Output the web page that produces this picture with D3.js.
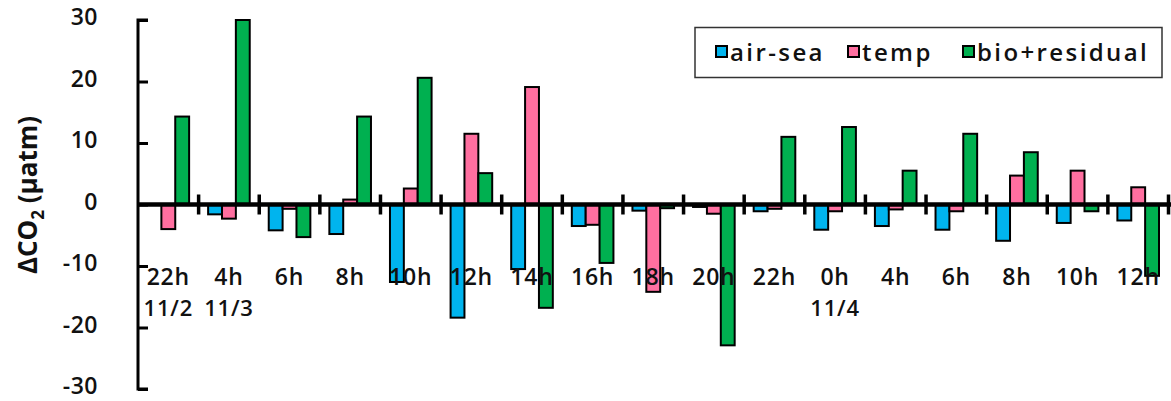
<!DOCTYPE html>
<html>
<head>
<meta charset="utf-8">
<script src="https://cdn.jsdelivr.net/npm/d3@7"></script>
<style>
  html, body { margin: 0; padding: 0; background: #fff; }
  svg text { font-family: "Open Sans", "Noto Sans", sans-serif; fill: #111; }
</style>
</head>
<body>
<svg id="chart" width="1171" height="401"></svg>
<script>
// Hourly decomposition of ΔCO2 into air-sea exchange, temperature and bio+residual terms
const hours = ["22h","4h","6h","8h","10h","12h","14h","16h","18h","20h","22h","0h","4h","6h","8h","10h","12h"];
const dates = ["11/2","11/3","","","","","","","","","","11/4","","","","",""];
const seriesNames = ["air-sea","temp","bio+residual"];
const airSea = [0, -1.6, -4.2, -4.8, -12.6, -18.4, -10.5, -3.5, -1.0, -0.4, -1.1, -4.1, -3.5, -4.1, -5.9, -3.0, -2.6];
const temp   = [-4.0, -2.3, -0.7, 0.8, 2.6, 11.5, 19.1, -3.3, -14.2, -1.5, -0.7, -1.1, -0.8, -1.1, 4.7, 5.5, 2.8];
const bio    = [14.3, 30, -5.3, 14.3, 20.6, 5.1, -16.8, -9.5, -0.6, -22.9, 11.0, 12.6, 5.5, 11.5, 8.5, -1.1, -11.6];
const yTicks = [-30, -20, -10, 0, 10, 20, 30];
const colors = ["#00B4EE", "#FF6FA0", "#00B050"];

const values = [airSea, temp, bio];
const svg = d3.select("#chart");

const x0 = d3.scaleBand().domain(d3.range(hours.length)).range([138, 1168.5]).padding(0);
const x1 = d3.scaleBand().domain(d3.range(3)).range([9.5, x0.bandwidth() - 9.5]).padding(0);
const y = d3.scaleLinear().domain([-30, 30]).range([389, 20]);

// bars
const groups = svg.append("g").selectAll("g")
  .data(hours.map((h, i) => i))
  .join("g")
  .attr("transform", i => `translate(${x0(i)},0)`);

groups.selectAll("rect")
  .data(i => values.map((arr, s) => ({ s, v: arr[i] })))
  .join("rect")
  .filter(d => d.v !== 0)
  .attr("x", d => x1(d.s))
  .attr("width", x1.bandwidth())
  .attr("y", d => y(Math.max(0, d.v)))
  .attr("height", d => Math.abs(y(d.v) - y(0)))
  .attr("fill", d => colors[d.s])
  .attr("stroke", "#000")
  .attr("stroke-width", 2);

// y axis
const yAxis = d3.axisRight(y).tickValues(yTicks).tickSize(10).tickFormat("");
const gy = svg.append("g").attr("transform", "translate(138,0)").call(yAxis);
gy.select(".domain").attr("stroke", "#000").attr("stroke-width", 3)
  .attr("d", `M10,${y(30)}H0V${y(-30)}H10`);
gy.selectAll(".tick line").attr("stroke", "#000").attr("stroke-width", 3);

svg.append("g").selectAll("text")
  .data(yTicks)
  .join("text")
  .attr("x", 98)
  .attr("y", d => y(d))
  .attr("dy", "0.22em")
  .attr("text-anchor", "end")
  .attr("font-size", 23)
  .attr("font-weight", 600)
  .attr("letter-spacing", 0.5)
  .text(d => d);

// x axis at zero with ticks crossing the line
const xEdges = d3.range(1, hours.length + 1).map(i => x0.range()[0] + i * x0.bandwidth());
svg.append("line")
  .attr("x1", 138).attr("x2", 1171)
  .attr("y1", y(0)).attr("y2", y(0))
  .attr("stroke", "#000").attr("stroke-width", 4.5);
svg.append("g").selectAll("line")
  .data(xEdges)
  .join("line")
  .attr("x1", d => d).attr("x2", d => d)
  .attr("y1", y(0) - 10).attr("y2", y(0) + 10)
  .attr("stroke", "#000").attr("stroke-width", 3.5);

// category labels
svg.append("g").selectAll("text")
  .data(hours)
  .join("text")
  .attr("x", (d, i) => x0(i) + x0.bandwidth() / 2)
  .attr("y", 277)
  .attr("dy", "0.36em")
  .attr("text-anchor", "middle")
  .attr("font-size", 23)
  .attr("font-weight", 600)
  .attr("letter-spacing", 0.8)
  .text(d => d);

svg.append("g").selectAll("text")
  .data(dates)
  .join("text")
  .attr("x", (d, i) => x0(i) + x0.bandwidth() / 2)
  .attr("y", 308)
  .attr("dy", "0.36em")
  .attr("text-anchor", "middle")
  .attr("font-size", 22)
  .attr("font-weight", 600)
  .attr("letter-spacing", 0.8)
  .text(d => d);

// y axis title
const title = svg.append("text")
  .attr("transform", "translate(37,195) rotate(-90)")
  .attr("text-anchor", "middle")
  .attr("font-size", 26)
  .attr("font-weight", 700);
title.append("tspan").text("ΔCO");
title.append("tspan").attr("font-size", 17).attr("dy", 7).text("2");
title.append("tspan").attr("dy", -7).text(" (μatm)");

// legend
const legend = svg.append("g");
legend.append("rect")
  .attr("x", 695).attr("y", 27.5).attr("width", 467).attr("height", 50)
  .attr("fill", "#fff").attr("stroke", "#333").attr("stroke-width", 1.5);
const legendX = [716, 848, 963];
const legendItems = legend.selectAll("g.item")
  .data(seriesNames)
  .join("g")
  .attr("class", "item")
  .attr("transform", (d, i) => `translate(${legendX[i]},52)`);
legendItems.append("rect")
  .attr("x", 0).attr("y", -6).attr("width", 11).attr("height", 11)
  .attr("fill", (d, i) => colors[i])
  .attr("stroke", "#000").attr("stroke-width", 2);
legendItems.append("text")
  .attr("x", 14)
  .attr("y", 0)
  .attr("dy", "0.36em")
  .attr("font-size", 24)
  .attr("font-weight", 600)
  .attr("letter-spacing", 2.4)
  .text(d => d);
</script>
</body>
</html>
